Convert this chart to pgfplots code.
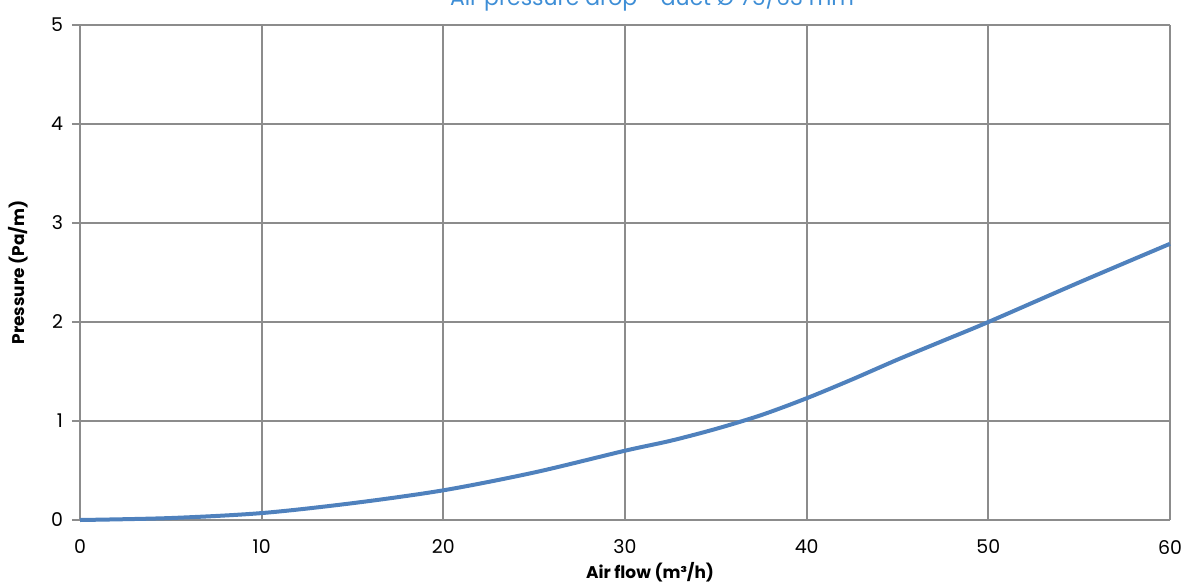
\documentclass[border=0pt]{standalone}
\usepackage{pgfplots}
\pgfplotsset{compat=1.18}
\usepackage{fontspec}
\setmainfont{Poppins}
\definecolor{gridgray}{HTML}{8C8C8C}
\definecolor{lineblue}{HTML}{4F81BD}
\definecolor{titleblue}{HTML}{3E8ED6}
\begin{document}
\begin{tikzpicture}[x=1bp,y=1bp]
\begin{axis}[
  at={(0,0)}, anchor=south west,
  scale only axis,
  width=545bp, height=247.5bp,
  xmin=0, xmax=60, ymin=0, ymax=5,
  xtick={0,10,...,60}, ytick={0,1,...,5},
  grid=major,
  major grid style={gridgray, line width=1bp},
  axis line style={gridgray, line width=1bp},
  axis lines*=left,
  tick style={gridgray, line width=1bp},
  ytick style={gridgray, line width=1bp},
  xtick style={draw=none},
  tick align=outside,
  major tick length=4bp,
  ticklabel style={font=\fontsize{9.5}{11}\selectfont, text=black},
  /pgf/number format/assume math mode=true,
  xticklabel style={yshift=-2.5bp},
  yticklabel style={xshift=-1bp},
  xlabel={\bfseries Air flow (m³/h)},
  ylabel={\bfseries Pressure (Pa/m)},
  label style={font=\fontsize{8.5}{10}\selectfont},
  xlabel style={at={(axis description cs:0.523,-0.105)}, anchor=center},
  ylabel style={at={(axis description cs:-0.057,0.5)}, anchor=center},
  clip=false,
]
\addplot[lineblue, line width=2bp, smooth, tension=0.5] coordinates {
(0,0) (5,0.02) (10,0.07) (15,0.17) (20,0.30) (25,0.48) (30,0.70) (32.5,0.80) (35,0.92) (37.5,1.06) (40,1.23) (42.5,1.42) (45,1.62) (47.5,1.81) (50,2.00) (55,2.40) (60,2.79)
};
\end{axis}
\node[anchor=base, text=titleblue, font=\fontsize{11}{13}\selectfont] at (286,257.5) {Air pressure drop - duct Ø 75/63 mm};
\pgfresetboundingbox
\useasboundingbox (-40,-31.5) rectangle (556,260);
\end{tikzpicture}
\end{document}
